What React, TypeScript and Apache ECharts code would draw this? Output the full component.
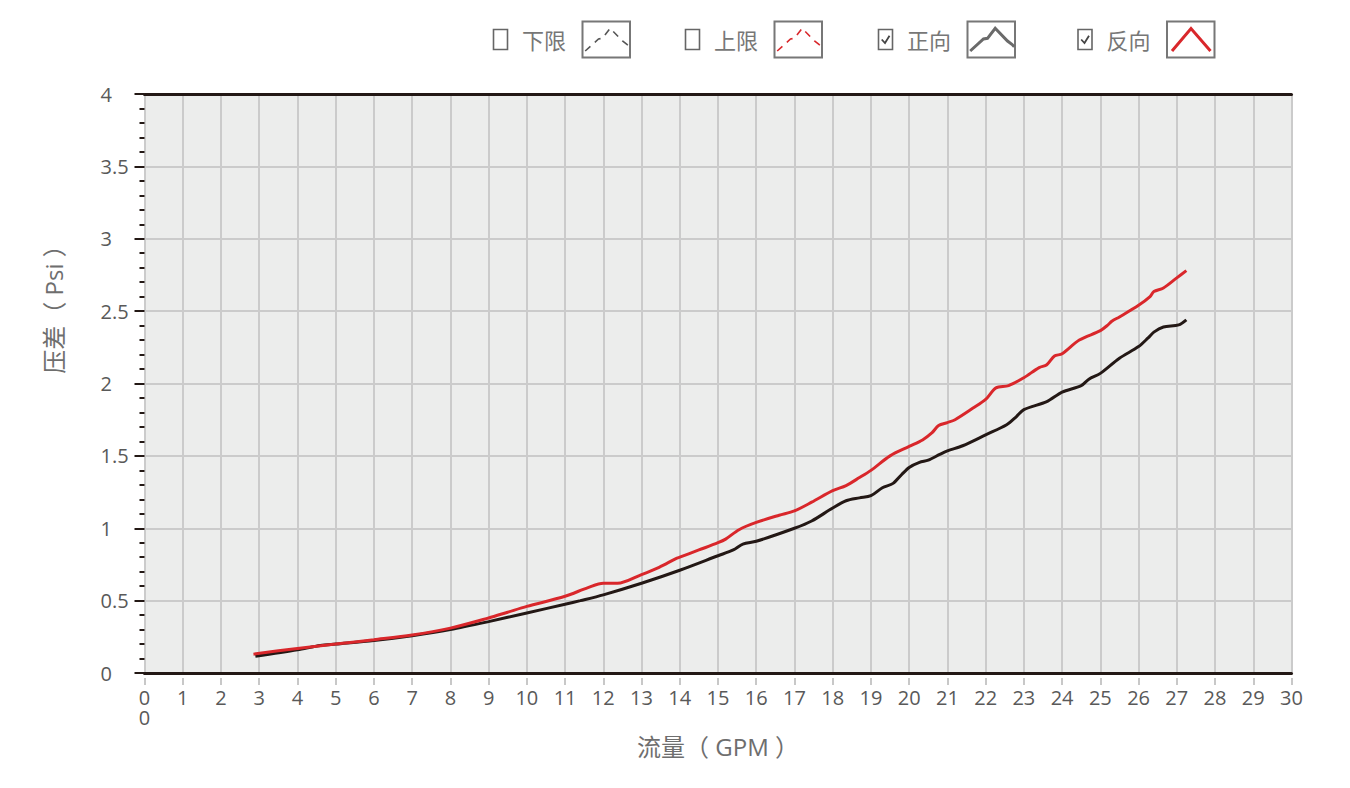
import React, { useEffect, useRef } from "react";
import * as echarts from "echarts";

// 正向 (forward) curve: flow in GPM, pressure drop in Psi
const flowForward = [
  2.9, 4, 4.6, 5, 6, 7, 8, 9, 10, 11, 11.4, 12, 13, 14, 15, 15.4, 15.65, 16, 17,
  17.45, 18, 18.35, 18.7, 19, 19.3, 19.58, 19.8, 20, 20.27, 20.5, 20.8, 21, 21.4,
  22, 22.55, 22.8, 23, 23.6, 24, 24.5, 24.7, 25, 25.5, 26, 26.25, 26.4, 26.65,
  27.05, 27.25,
];
const dpForward = [
  0.115, 0.16, 0.19, 0.2, 0.225, 0.258, 0.3, 0.355, 0.415, 0.475, 0.5, 0.54, 0.62,
  0.71, 0.81, 0.85, 0.89, 0.91, 1.0, 1.05, 1.14, 1.19, 1.21, 1.225, 1.28, 1.31,
  1.37, 1.42, 1.455, 1.47, 1.51, 1.535, 1.57, 1.645, 1.715, 1.77, 1.82, 1.875,
  1.94, 1.985, 2.03, 2.07, 2.175, 2.255, 2.315, 2.355, 2.39, 2.405, 2.44,
];

// 反向 (reverse) curve
const flowReverse = [
  2.85, 4, 5, 6, 7, 8, 9, 9.5, 10, 11, 11.6, 12, 12.37, 13, 13.46, 13.9, 14, 14.5,
  15, 15.2, 15.55, 16, 16.6, 17, 17.45, 18, 18.35, 18.7, 19, 19.5, 20, 20.35, 20.6,
  20.77, 21, 21.2, 21.67, 22, 22.27, 22.6, 23, 23.4, 23.6, 23.8, 24, 24.45, 25,
  25.2, 25.3, 25.5, 26, 26.3, 26.4, 26.65, 27, 27.25,
];
const dpReverse = [
  0.13, 0.17, 0.2, 0.23, 0.262, 0.31, 0.38, 0.42, 0.46, 0.53, 0.59, 0.62, 0.62,
  0.68, 0.73, 0.79, 0.8, 0.85, 0.9, 0.925, 0.99, 1.04, 1.09, 1.12, 1.18, 1.26,
  1.295, 1.35, 1.4, 1.5, 1.565, 1.61, 1.66, 1.71, 1.73, 1.75, 1.83, 1.89, 1.97,
  1.985, 2.04, 2.11, 2.13, 2.19, 2.205, 2.3, 2.365, 2.405, 2.43, 2.46, 2.54, 2.6,
  2.635, 2.66, 2.73, 2.78,
];

const legendNames = ["下限", "上限", "正向", "反向"];
const legendChecked = [false, false, true, true];

const xName = "流量（ GPM ）";
const yName = "压差（ Psi ）";

const FONT = "'Open Sans', 'Noto Sans CJK SC', sans-serif";
const CJK = "'Noto Sans CJK SC', sans-serif";
const DARK = "#231815";
const RED = "#d9272b";

const zip = (xs: number[], ys: number[]) => xs.map((x, i) => [x, ys[i]]);

// little legend widgets drawn at the top (checkbox + label + line sample)
function buildLegend() {
  const checkX = [493.5, 685.5, 878.5, 1078];
  const iconShape = [
    [2.7, 30], [16, 18], [20, 17.3], [27.7, 7.3], [40, 20], [44.4, 23.3], [46.7, 25.7],
  ];
  const caretShape = [[5, 30], [24, 7.5], [43.5, 30]];
  const out: any[] = [];
  legendNames.forEach((name, i) => {
    const cx = checkX[i];
    const bx = cx + 89;
    out.push({
      type: "rect",
      shape: { x: cx, y: 29.5, width: 14, height: 20 },
      style: { fill: "#fff", stroke: "#666", lineWidth: 1.6 },
    });
    if (legendChecked[i]) {
      out.push({
        type: "polyline",
        shape: { points: [[cx + 3.2, 39.5], [cx + 6.5, 43], [cx + 11, 35.8]] },
        style: { fill: "none", stroke: "#444", lineWidth: 1.8 },
      });
    }
    out.push({
      type: "text",
      x: cx + 28.5,
      y: 39,
      style: { text: name, fill: "#777", font: `22px ${CJK}`, verticalAlign: "middle" },
    });
    out.push({
      type: "rect",
      shape: { x: bx, y: 21.5, width: 47.5, height: 36 },
      style: { fill: "#fff", stroke: "#777", lineWidth: 2 },
    });
    const red = i === 1 || i === 3;
    const dashed = i < 2;
    const pts = (i === 3 ? caretShape : iconShape).map(([px, py]) => [bx + px, 21 + py]);
    out.push({
      type: "polyline",
      shape: { points: pts },
      style: {
        fill: "none",
        stroke: red ? RED : dashed ? "#555" : "#6a6a6a",
        lineWidth: dashed ? 1.6 : 3,
        lineDash: dashed ? [7, 6] : null,
      },
    });
  });
  return out;
}

const App: React.FC = () => {
  const chartRef = useRef<HTMLDivElement>(null);

  useEffect(() => {
    if (!chartRef.current) return;
    const chart = echarts.init(chartRef.current, undefined, { renderer: "svg" });

    const labelStyle = { fontSize: 20, color: "#595959", fontFamily: FONT };

    const option = {
      animation: false,
      backgroundColor: "#fff",
      grid: {
        left: 144.5,
        right: 58.5,
        top: 94,
        bottom: 115,
        show: true,
        backgroundColor: "#ecedec",
        borderWidth: 0,
      },
      xAxis: [
        {
          type: "value",
          position: "bottom",
          min: 0,
          max: 30,
          interval: 1,
          axisLine: { onZero: false, lineStyle: { color: DARK, width: 3 } },
          axisTick: { show: false },
          axisLabel: {
            ...labelStyle,
            margin: 14,
            lineHeight: 20,
            formatter: (v: number) => (v === 0 ? "0\n0" : String(v)),
          },
          splitLine: { show: true, lineStyle: { color: "#cbcbcb", width: 2 } },
          name: xName,
          nameLocation: "middle",
          nameGap: 61,
          nameTextStyle: { fontSize: 24, color: "#6e6e6e", fontFamily: FONT },
        },
        {
          type: "value",
          position: "bottom",
          offset: 5,
          min: 0,
          max: 30,
          interval: 1,
          axisLine: { show: false, onZero: false },
          axisTick: { show: true, length: 7, lineStyle: { color: "#c8c8c8", width: 2 } },
          axisLabel: { show: false },
          splitLine: { show: false },
        },
        {
          type: "value",
          position: "top",
          min: 0,
          max: 30,
          interval: 1,
          axisLine: { onZero: false, lineStyle: { color: DARK, width: 3 } },
          axisTick: { show: false },
          axisLabel: { show: false },
          splitLine: { show: false },
        },
      ],
      yAxis: {
        type: "value",
        min: 0,
        max: 4,
        interval: 0.5,
        axisLine: { show: false, onZero: false },
        axisTick: { show: true, length: 10, lineStyle: { color: DARK, width: 2 } },
        minorTick: { show: true, splitNumber: 5, length: 5, lineStyle: { color: DARK, width: 2 } },
        axisLabel: { ...labelStyle, align: "left", margin: 44 },
        splitLine: { show: true, lineStyle: { color: "#cbcbcb", width: 2 } },
        name: yName,
        nameLocation: "middle",
        nameGap: 79,
        nameTextStyle: {
          fontSize: 24,
          color: "#6e6e6e",
          fontFamily: FONT,
          padding: [0, 0, 0, 160],
        },
      },
      graphic: buildLegend(),
      series: [
        {
          name: "正向",
          type: "line",
          xAxisIndex: 0,
          data: zip(flowForward, dpForward),
          showSymbol: false,
          smooth: 0.3,
          lineStyle: { color: DARK, width: 3 },
          itemStyle: { color: DARK },
        },
        {
          name: "反向",
          type: "line",
          xAxisIndex: 0,
          data: zip(flowReverse, dpReverse),
          showSymbol: false,
          smooth: 0.3,
          lineStyle: { color: RED, width: 3 },
          itemStyle: { color: RED },
        },
      ],
    };

    chart.setOption(option);

    const onResize = () => chart.resize();
    window.addEventListener("resize", onResize);
    return () => {
      window.removeEventListener("resize", onResize);
      chart.dispose();
    };
  }, []);

  return (
    <div
      ref={chartRef}
      style={{ position: "fixed", left: 0, top: 0, width: 1350, height: 788 }}
    />
  );
};

export default App;
